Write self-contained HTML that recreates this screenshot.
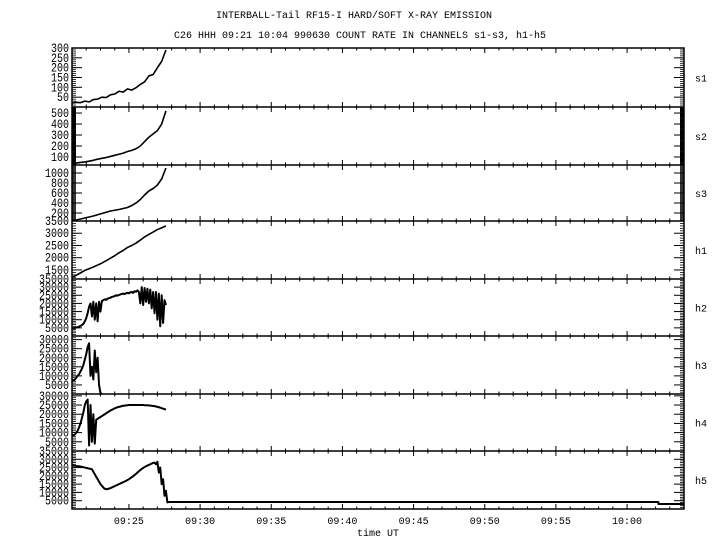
<!DOCTYPE html>
<html><head><meta charset="utf-8"><style>
html,body{margin:0;padding:0;background:#fff;}
svg{display:block;}
text{font-family:"Liberation Mono",monospace;font-size:10px;fill:#000;}
</style></head><body>
<svg id="chart" width="720" height="550" viewBox="0 0 720 550" xmlns="http://www.w3.org/2000/svg">
<rect width="720" height="550" fill="#fff"/>
<text x="354" y="18" text-anchor="middle">INTERBALL-Tail RF15-I HARD/SOFT X-RAY EMISSION</text>
<text x="360" y="38" text-anchor="middle">C26 HHH 09:21 10:04 990630  COUNT RATE IN CHANNELS s1-s3, h1-h5</text>
<text x="378" y="536" text-anchor="middle">time UT</text>
<g id="g"></g>
</svg>
<script>
// time axis (minutes after 09:21)
const xTickLabels = ["09:25","09:30","09:35","09:40","09:45","09:50","09:55","10:00"];
const xTickMinutes = [4,9,14,19,24,29,34,39];
const panelNames = ["s1","s2","s3","h1","h2","h3","h4","h5"];
const panelMin = [0,27,40,1130,0,0,0,0];
const panelMax = [300,555,1160,3500,35000,32000,31000,35000];
const yLabels = [[50,100,150,200,250,300],[100,200,300,400,500],[200,400,600,800,1000],[1500,2000,2500,3000,3500],[5000,10000,15000,20000,25000,30000,35000],[5000,10000,15000,20000,25000,30000],[5000,10000,15000,20000,25000,30000],[5000,10000,15000,20000,25000,30000,35000]];
const yMinorStep = [10,5,20,100,1000,1000,1000,1000];
const s1 = [20,24,22,30,26,38,40,50,48,62,66,80,76,92,86,98,115,128,158,165,200,232,290];
const s2 = [40,45,50,55,62,70,80,88,95,105,115,125,135,150,160,175,200,240,280,310,340,400,520];
const s3 = [50,60,80,100,120,140,165,190,215,240,255,270,290,310,350,400,470,560,640,690,760,880,1100];
const h1 = [1200,1280,1380,1480,1550,1620,1700,1780,1880,1980,2080,2200,2300,2420,2500,2600,2720,2850,2950,3050,3150,3220,3300];
const h2 = [4500,4800,5000,5200,5400,5800,6200,6800,7500,9000,11000,14000,18000,20000,12000,21000,10000,20000,9000,21000,15000,21500,22000,22500,22200,23000,23200,23500,24000,24200,24500,25000,24800,25200,25500,25800,26000,25800,26200,26500,26200,26800,27000,26500,27500,27200,28000,27000,20000,30000,19000,29500,21000,29000,20000,28500,17000,27000,14000,27000,10000,26000,6000,25000,8000,22000,19000];
const h3 = [7000,7500,8000,9000,10000,11000,12500,14000,16000,19000,22000,26000,28000,10000,15000,8000,24000,12000,20000,5000,500,0];
const h4 = [8000,8500,9000,10000,11000,13000,15000,18000,21000,25000,27000,28000,3000,25000,5000,20000,4000,17000,17500,18000,18500,19000,19500,20000,20500,21000,21500,22000,22400,22800,23200,23500,23800,24000,24200,24400,24600,24700,24800,24900,25000,25000,25000,25000,25000,25000,25000,25000,25000,25000,25000,24900,24900,24800,24800,24700,24600,24500,24400,24200,24000,23800,23600,23300,23000,22800,22500];
const h5 = [26000,26200,26000,26000,25800,25800,25600,25400,25200,25000,24800,24600,24400,24200,24000,22500,21000,19500,18000,16500,15000,14000,13000,12200,12000,12000,12300,12600,13000,13400,13800,14200,14600,15000,15400,15800,16200,16600,17000,17500,18000,18600,19200,19800,20500,21200,22000,22800,23500,24200,24800,25300,25800,26200,26600,27000,27400,27800,28000,27000,28500,22000,25000,15000,18000,8000,11000,4000,4200];
const h5TailTimes = [6.8,41.2,41.2,43];
const h5TailValues = [4200,4200,3000,3000];
const seriesValues = [s1,s2,s3,h1,h2,h3,h4,h5];
const seriesStep = [0.3,0.3,0.3,0.3,0.1,0.1,0.1,0.1];

const NS="http://www.w3.org/2000/svg", G=document.getElementById('g');
const X0=72,X1=684,TMAX=43;
const bounds=[48,107,165,221,279,336,394,451,509];
const xS=t=>X0+(X1-X0)*t/TMAX;
function yS(p,v){const b=bounds[p+1],a=bounds[p];return b-(b-a)*(v-panelMin[p])/(panelMax[p]-panelMin[p]);}
function mk(tag,attrs,parent){const e=document.createElementNS(NS,tag);for(const k in attrs)e.setAttribute(k,attrs[k]);(parent||G).appendChild(e);return e;}
function line(x1,y1,x2,y2,sw){return mk('line',{x1,y1,x2,y2,stroke:'#000','stroke-width':sw||1});}

const fr=mk('rect',{x:X0,y:bounds[0],width:X1-X0,height:bounds[8]-bounds[0],fill:'none',stroke:'#000','stroke-width':1.5});


bounds.forEach((y,i)=>{
  if(i>0&&i<8){const l=line(X0,y,X1,y,1.5);
    
    }
  for(let m=1;m<TMAX;m++){
    const major=xTickMinutes.includes(m);
    const len=major?5:2.5;
    const up=i===0?0:len, dn=i===8?0:len;
    line(xS(m),y-up,xS(m),y+dn,1);
  }
});
xTickLabels.forEach((lab,i)=>{
  const t=mk('text',{x:xS(xTickMinutes[i]),y:524,'text-anchor':'middle'});
  t.textContent=lab;
  
  
});

for(let p=0;p<8;p++){
  const top=bounds[p],bot=bounds[p+1];
  const st=yMinorStep[p];
  for(let v=Math.ceil(panelMin[p]/st)*st;v<=panelMax[p];v+=st){
    const y=yS(p,v); if(y<top-0.5||y>bot+0.5)continue;
    line(X0,y,X0+4,y,0.8); line(X1-4,y,X1,y,0.8);
  }
  yLabels[p].forEach(v=>{
    const y=yS(p,v);
    line(X0,y,X0+10,y,1); line(X1-10,y,X1,y,1);
    const t=mk('text',{x:0,y:0,'text-anchor':'end',transform:`translate(69 ${y+4}) scale(1 1.25)`});
    t.textContent=v;
    
    
  });
  const nl=mk('text',{x:695,y:(top+bot)/2+4});
  nl.textContent=panelNames[p];
  
  
  const vals=seriesValues[p];
  let d=vals.map((v,i)=>(i?'L':'M')+xS(i*seriesStep[p]).toFixed(2)+' '+yS(p,v).toFixed(2)).join(' ');
  if(p===7){ d+=' '+h5TailTimes.map((t,i)=>'L'+xS(t).toFixed(2)+' '+yS(p,h5TailValues[i]).toFixed(2)).join(' '); }
  const path=mk('path',{d,fill:'none',stroke:'#000','stroke-width':p>=4?2:1.6,'stroke-linejoin':'round'});
  
  
}
</script>
</body></html>
